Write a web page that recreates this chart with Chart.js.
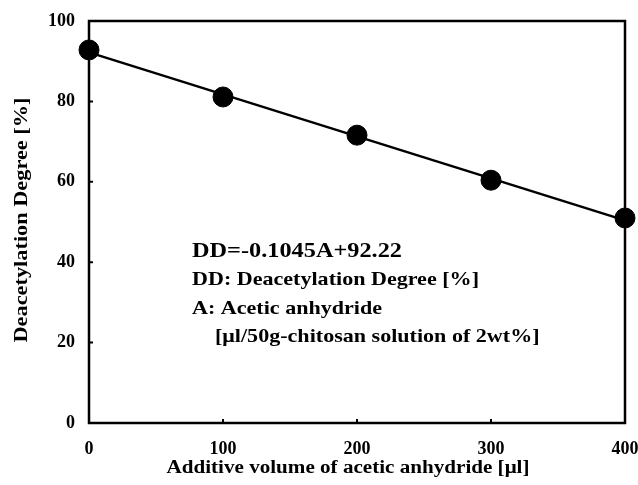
<!DOCTYPE html>
<html>
<head>
<meta charset="utf-8">
<script src="https://cdn.jsdelivr.net/npm/chart.js@4.4.1/dist/chart.umd.min.js"></script>
<style>
  html, body { margin: 0; padding: 0; background: #fff; }
  #wrap { position: relative; width: 638px; height: 485px; }
</style>
</head>
<body>
<div id="wrap"><canvas id="chart" width="638" height="485"></canvas></div>
<script>
// measured points
const volumes = [0, 100, 200, 300, 400];
const degrees = [92.8, 81.1, 71.6, 60.4, 51.0];

// fitted line endpoints (DD=-0.1045A+92.22)
const fitX = [0, 400];
const fitY = [92.2, 50.4];

const xTicks = [0, 100, 200, 300, 400];
const yTicks = [0, 20, 40, 60, 80, 100];

const xTitle = 'Additive volume of acetic anhydride [\u03bcl]';
const yTitle = 'Deacetylation Degree [%]';
const noteLines = [
  'DD=-0.1045A+92.22',
  'DD: Deacetylation Degree [%]',
  'A: Acetic anhydride',
  '[\u03bcl/50g-chitosan solution of 2wt%]'
];

const serif = '"Liberation Serif", "Times New Roman", serif';

// the original text is a bit stretched sideways
function wideText(ctx, text, x, y, sx) {
  ctx.save();
  ctx.translate(x, y);
  ctx.scale(sx, 1);
  ctx.fillText(text, 0, 0);
  ctx.restore();
}

// frame, inner ticks, axis titles and the equation text
const decorations = {
  id: 'decorations',
  afterDraw(chart) {
    const ctx = chart.ctx;
    const a = chart.chartArea;
    const xs = chart.scales.x, ys = chart.scales.y;
    ctx.save();
    ctx.strokeStyle = '#000';
    ctx.lineWidth = 2.5;
    ctx.strokeRect(a.left, a.top, a.right - a.left, a.bottom - a.top);

    ctx.lineWidth = 2;
    ctx.beginPath();
    xTicks.slice(1, -1).forEach(v => {
      const px = xs.getPixelForValue(v);
      ctx.moveTo(px, a.bottom);
      ctx.lineTo(px, a.bottom - 4);
    });
    yTicks.slice(1, -1).forEach(v => {
      const py = ys.getPixelForValue(v);
      ctx.moveTo(a.left, py);
      ctx.lineTo(a.left + 4, py);
    });
    ctx.stroke();

    ctx.fillStyle = '#000';
    ctx.textBaseline = 'alphabetic';
    ctx.textAlign = 'center';

    ctx.font = 'bold 18px ' + serif;
    wideText(ctx, xTitle, 348, 473, 363 / ctx.measureText(xTitle).width);

    ctx.save();
    ctx.translate(27, 220);
    ctx.rotate(-Math.PI / 2);
    wideText(ctx, yTitle, 0, 0, 245 / ctx.measureText(yTitle).width);
    ctx.restore();

    ctx.textAlign = 'left';
    ctx.font = 'bold 22px ' + serif;
    wideText(ctx, noteLines[0], 192, 257, 210 / ctx.measureText(noteLines[0]).width);

    ctx.font = 'bold 19px ' + serif;
    const k = 287 / ctx.measureText(noteLines[1]).width;
    wideText(ctx, noteLines[1], 192, 285, k);
    wideText(ctx, noteLines[2], 192, 314, k);
    wideText(ctx, noteLines[3], 215, 342, k);
    ctx.restore();
  }
};

new Chart(document.getElementById('chart'), {
  type: 'scatter',
  data: {
    datasets: [
      {
        label: 'fit',
        data: fitX.map((x, i) => ({ x: x, y: fitY[i] })),
        showLine: true,
        borderColor: '#000',
        borderWidth: 2.5,
        pointRadius: 0,
        clip: false,
        order: 2
      },
      {
        label: 'DD',
        data: volumes.map((x, i) => ({ x: x, y: degrees[i] })),
        pointRadius: 10,
        pointHoverRadius: 10,
        backgroundColor: '#000',
        borderColor: '#000',
        clip: false,
        order: 1
      }
    ]
  },
  options: {
    responsive: false,
    animation: false,
    layout: { padding: { top: 21, right: 13, left: 0, bottom: 0 } },
    plugins: { legend: { display: false }, tooltip: { enabled: false } },
    scales: {
      x: {
        type: 'linear',
        min: 0,
        max: 400,
        afterBuildTicks: s => { s.ticks = xTicks.map(v => ({ value: v })); },
        afterFit: s => { s.height = 62; s.paddingLeft = 0; s.paddingRight = 0; },
        grid: { display: false },
        border: { display: false },
        ticks: {
          color: '#000',
          padding: 8,
          maxRotation: 0,
          font: { family: serif, size: 18, weight: 'bold' }
        }
      },
      y: {
        type: 'linear',
        min: 0,
        max: 100,
        afterBuildTicks: s => { s.ticks = yTicks.map(v => ({ value: v })); },
        afterFit: s => { s.width = 89; s.paddingTop = 0; s.paddingBottom = 0; },
        grid: { display: false },
        border: { display: false },
        ticks: {
          color: '#000',
          padding: 6,
          font: { family: serif, size: 18, weight: 'bold' }
        }
      }
    }
  },
  plugins: [decorations]
});
</script>
</body>
</html>
